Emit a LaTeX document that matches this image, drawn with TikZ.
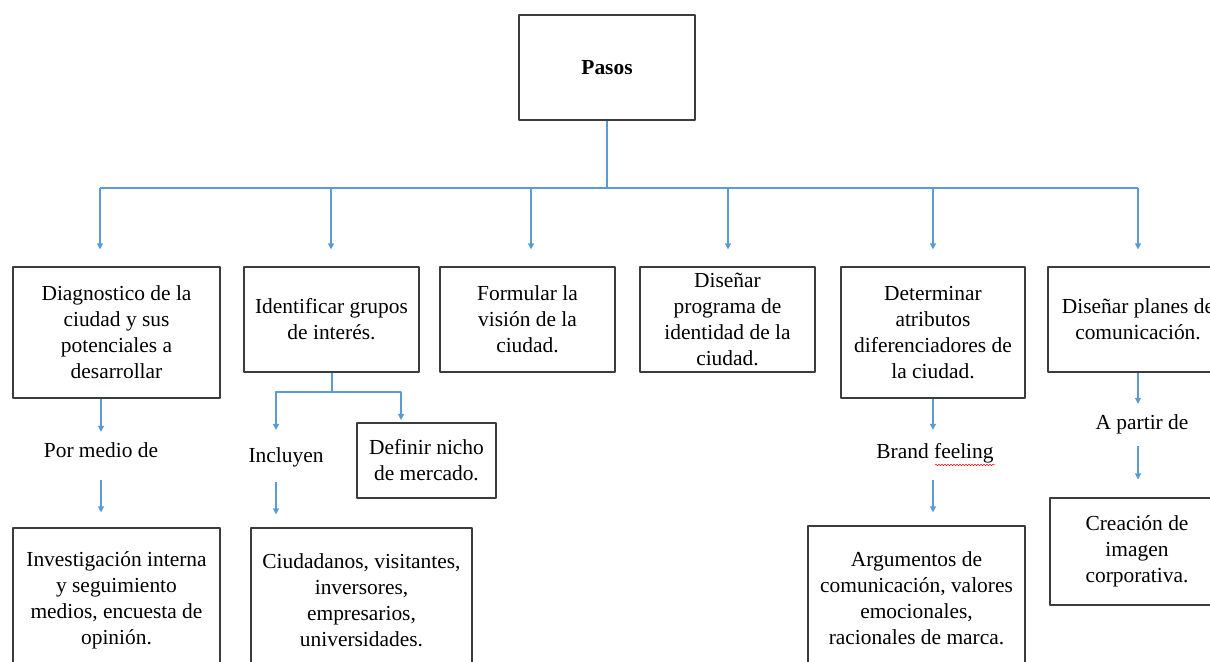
\documentclass[tikz,border=0pt]{standalone}
\usepackage{fontspec}
\setmainfont{Liberation Serif}
\usetikzlibrary{arrows.meta}
\usetikzlibrary{decorations.pathmorphing}
\definecolor{linkblue}{RGB}{91,155,213}
\definecolor{boxgray}{RGB}{60,60,60}

\begin{document}
\begin{tikzpicture}[>={Triangle[length=6bp,width=6bp]},line join=bevel,
  stepbox/.style={draw=boxgray,line width=1.1bp,align=center,inner sep=2bp,
    font=\fontsize{21.5}{26}\selectfont},
  steplabel/.style={align=center,inner sep=11bp,text height=15bp,text depth=5bp,
    font=\fontsize{21.5}{26}\selectfont},
  link/.style={draw=linkblue,line width=1.2bp},
  spellmark/.style={draw=red,line width=0.5bp,decorate,
    decoration={snake,segment length=3bp,amplitude=0.8bp}},
]
%%
\clip (0bp,0bp) rectangle (1210bp,662bp);
\node (node_pasos) at (607bp,594.5bp) [stepbox,minimum width=176bp,minimum height=105bp] {\textbf{Pasos}};
  \node (node_diag) at (116.5bp,329.5bp) [stepbox,minimum width=207bp,minimum height=131bp] {Diagnostico de la\\ciudad y sus\\potenciales a\\desarrollar};
  \node (node_grupos) at (331.5bp,342.5bp) [stepbox,minimum width=175bp,minimum height=105bp] {Identificar grupos\\de interés.};
  \node (node_vision) at (527.5bp,342.5bp) [stepbox,minimum width=175bp,minimum height=105bp] {Formular la\\visión de la\\ciudad.};
  \node (node_ident) at (727.5bp,342.5bp) [stepbox,minimum width=175bp,minimum height=105bp] {Diseñar\\programa de\\identidad de la\\ciudad.};
  \node (node_atrib) at (933bp,329.5bp) [stepbox,minimum width=184bp,minimum height=131bp] {Determinar\\atributos\\diferenciadores de\\la ciudad.};
  \node (node_planes) at (1138bp,342.5bp) [stepbox,minimum width=180bp,minimum height=105bp] {Diseñar planes de\\comunicación.};
  \node (node_invest) at (116.5bp,62bp) [stepbox,minimum width=207bp,minimum height=144bp] {Investigación interna\\y seguimiento\\medios, encuesta de\\opinión.};
  \node (node_ciud) at (361.5bp,62bp) [stepbox,minimum width=221bp,minimum height=144bp] {Ciudadanos, visitantes,\\inversores,\\empresarios,\\universidades.};
  \node (node_nicho) at (426.5bp,201.5bp) [stepbox,minimum width=139bp,minimum height=75bp] {Definir nicho\\de mercado.};
  \node (node_argum) at (916.5bp,64bp) [stepbox,minimum width=217bp,minimum height=144bp] {Argumentos de\\comunicación, valores\\emocionales,\\racionales de marca.};
  \node (node_imagen) at (1137bp,110.5bp) [stepbox,minimum width=174bp,minimum height=107bp] {Creación de\\imagen\\corporativa.};
  \node (lab_medio) at (101bp,209bp) [steplabel] {Por medio de};
  \node (lab_incl) at (286bp,204bp) [steplabel] {Incluyen};
  \node (lab_brand) at (935bp,208bp) [steplabel] {Brand feeling};
  \node (lab_partir) at (1142bp,237bp) [steplabel] {A partir de};
  \coordinate (bar_1) at (100bp,474bp);
  \coordinate (bar_2) at (331bp,474bp);
  \coordinate (bar_3) at (531bp,474bp);
  \coordinate (bar_4) at (728bp,474bp);
  \coordinate (bar_5) at (933bp,474bp);
  \coordinate (bar_6) at (1138bp,474bp);
  \coordinate (fork_2) at (332bp,270bp);
  \coordinate (incl_in) at (276bp,232bp);
  \coordinate (nicho_in) at (401bp,242bp);
%
  \draw [link] (node_pasos.south) -- (node_pasos.south |- bar_1);
  \draw [link] (bar_1) -- (bar_6);
  \draw [link,->,shorten >=17bp] (bar_1) -- (bar_1 |- node_diag.north);
  \draw [link,->,shorten >=17bp] (bar_2) -- (bar_2 |- node_grupos.north);
  \draw [link,->,shorten >=17bp] (bar_3) -- (bar_3 |- node_vision.north);
  \draw [link,->,shorten >=17bp] (bar_4) -- (bar_4 |- node_ident.north);
  \draw [link,->,shorten >=17bp] (bar_5) -- (bar_5 |- node_atrib.north);
  \draw [link,->,shorten >=17bp] (bar_6) -- (bar_6 |- node_planes.north);
  \draw [link,->] (node_diag.south -| lab_medio) -- (lab_medio.north);
  \draw [link,->,shorten <=6bp,shorten >=15bp] (lab_medio.south) -- (lab_medio |- node_invest.north);
  \draw [link,->] (node_grupos.south -| fork_2) -- (fork_2) -| (incl_in);
  \draw [link,->] (fork_2) -| (nicho_in);
  \draw [link,->,shorten <=3bp,shorten >=13bp] (incl_in |- lab_incl.south) -- (incl_in |- node_ciud.north);
  \draw [link,->,shorten >=3bp] (node_atrib.south) -- (node_atrib.south |- lab_brand.north);
  \draw [link,->,shorten <=5bp,shorten >=13bp] (node_atrib.south |- lab_brand.south) -- (node_atrib.south |- node_argum.north);
  \draw [link,->] (node_planes.south) -- (node_planes.south |- lab_partir.north);
  \draw [link,->,shorten >=18bp] (node_planes.south |- lab_partir.south) -- (node_planes.south |- node_imagen.north);
  \draw [spellmark] ([yshift=-11bp]lab_brand.center) -- ([xshift=60bp,yshift=-11bp]lab_brand.center);
%
\end{tikzpicture}
\end{document}
